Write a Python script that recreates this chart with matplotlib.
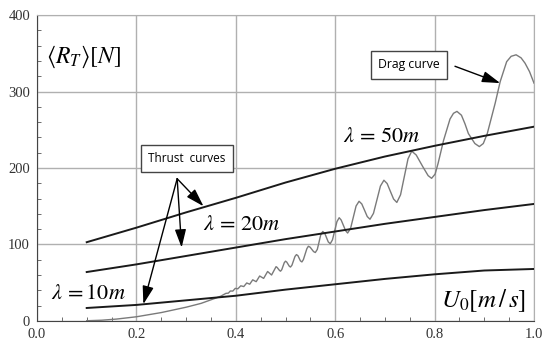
import matplotlib
matplotlib.use('Agg')
import matplotlib.pyplot as plt
from matplotlib.ticker import MultipleLocator

# thrust curves at U0 = 0.1 ... 1.0
u_thrust = [0.1, 0.2, 0.3, 0.4, 0.5, 0.6, 0.7, 0.8, 0.9, 1.0]
thrust_50 = [103, 122, 142, 161, 181, 199, 215, 229, 242, 254]
thrust_20 = [64, 74, 85, 96, 107, 117, 127, 136, 145, 153]
thrust_10 = [17, 21, 27, 33, 41, 48, 55, 61, 66, 68]

# drag curve (wavy), read point by point
u_drag = [0.10, 0.13, 0.16, 0.20, 0.25, 0.30, 0.33, 0.36, 0.370,
          0.380, 0.385, 0.389, 0.394, 0.399, 0.404, 0.410, 0.416, 0.422, 0.428,
          0.434, 0.441, 0.448, 0.456, 0.464, 0.472, 0.481,
          0.483, 0.488, 0.490, 0.4925, 0.4975, 0.500, 0.5025, 0.5075, 0.510,
          0.513, 0.519, 0.522, 0.525, 0.530, 0.533, 0.536, 0.543, 0.546,
          0.5495, 0.5565, 0.560, 0.564, 0.571, 0.575,
          0.579, 0.5825, 0.586, 0.590, 0.5945, 0.599, 0.6035, 0.608,
          0.612, 0.6165, 0.621, 0.625, 0.631, 0.6365, 0.642, 0.648,
          0.6535, 0.659, 0.6645, 0.670, 0.677, 0.684, 0.691, 0.698,
          0.7045, 0.711, 0.7175, 0.724, 0.7315, 0.739, 0.7465, 0.754,
          0.763, 0.776, 0.787, 0.794, 0.801, 0.807, 0.818, 0.831,
          0.838, 0.845, 0.854, 0.861, 0.868, 0.881, 0.890, 0.898, 0.906, 0.922,
          0.932, 0.945, 0.954, 0.964, 0.974, 0.982, 0.991, 1.000]
r_drag = [0.3, 1.0, 2.5, 5.5, 11, 18, 23, 30, 32.5,
          36.1, 36.4, 39.2, 39.1, 42.7, 42.0, 46.0, 45.0, 49.7, 48.1,
          53.8, 51.4, 58.8, 55.7, 64.7, 60.1, 71.0,
          70.1, 66.0, 65.1, 67.1, 76.2, 78.2, 77.0, 71.7, 70.5,
          73.0, 84.3, 86.8, 85.4, 78.6, 77.2, 80.3, 94.6, 97.7,
          96.5, 90.7, 89.5, 93.6, 112.9, 117,
          114.6, 109, 103.4, 101, 106.1, 118, 129.9, 135,
          132, 125, 118, 115, 121.2, 135.8, 150.3, 156.5,
          153, 144.8, 136.5, 133, 140.7, 158.5, 176.4, 184,
          179.7, 169.5, 159.4, 155, 165, 188.5, 212, 222,
          217, 202, 190, 186.5, 192, 206, 236, 264,
          271.5, 274, 269, 258, 245, 232, 228, 232, 245, 285,
          313, 339, 346, 348, 344, 337, 326, 311]

x_ticks = [0.0, 0.2, 0.4, 0.6, 0.8, 1.0]
y_ticks = [0, 100, 200, 300, 400]

plt.rcParams['mathtext.fontset'] = 'stix'
plt.rcParams['font.family'] = 'serif'
plt.rcParams['font.serif'] = ['Liberation Serif', 'DejaVu Serif']

fig = plt.figure(figsize=(5.5, 3.5), dpi=100)
ax = fig.add_axes([0.0673, 0.0829, 0.9036, 0.8742])

ax.plot(u_thrust, thrust_50, color='#1a1a1a', lw=1.4, zorder=3)
ax.plot(u_thrust, thrust_20, color='#1a1a1a', lw=1.4, zorder=3)
ax.plot(u_thrust, thrust_10, color='#1a1a1a', lw=1.4, zorder=3)
ax.plot(u_drag, r_drag, color='#7a7a7a', lw=1.0, zorder=2)

ax.set_xlim(0, 1)
ax.set_ylim(0, 400)
ax.set_xticks(x_ticks)
ax.set_xticklabels([f'{v:.1f}' for v in x_ticks])
ax.set_yticks(y_ticks)
ax.xaxis.set_minor_locator(MultipleLocator(0.05))
ax.yaxis.set_minor_locator(MultipleLocator(20))
ax.tick_params(which='both', direction='in', colors='#555555', labelcolor='#333333',
               labelsize=10.5)
ax.tick_params(which='major', length=0, pad=5)
ax.tick_params(which='minor', length=3)
ax.grid(True, color='#b0b0b0', lw=1.0)
ax.set_axisbelow(True)
for side in ['top', 'right']:
    ax.spines[side].set_color('#b0b0b0')
for side in ['left', 'bottom']:
    ax.spines[side].set_color('#444444')

# labels
ax.text(0.093, 345, r'$\langle R_T\rangle[N]$', fontsize=17, ha='center', va='center')
ax.text(0.898, 27, r'$U_0[m\,/\,s]$', fontsize=18, ha='center', va='center')
ax.text(0.694, 240, r'$\lambda\,=\,50m$', fontsize=16, ha='center', va='center')
ax.text(0.412, 125, r'$\lambda\,=\,20m$', fontsize=16, ha='center', va='center')
ax.text(0.104, 35, r'$\lambda\,=10m$', fontsize=16, ha='center', va='center')

box = dict(boxstyle='square,pad=0.6', fc='white', ec='#444444', lw=1.0)
ax.text(0.302, 212, 'Thrust  curves', fontsize=8.5, family='Open Sans',
        ha='center', va='center', bbox=box, zorder=5)
ax.text(0.748, 335, 'Drag curve', fontsize=8.8, family='Open Sans',
        ha='center', va='center', bbox=box, zorder=5)

arrow = dict(arrowstyle='-|>,head_length=0.55,head_width=0.17', color='black',
             lw=1.0, mutation_scale=20, shrinkA=0, shrinkB=0)
for tx, ty in [(0.335, 150), (0.291, 96), (0.214, 22)]:
    ax.annotate('', xy=(tx, ty), xytext=(0.282, 186), arrowprops=arrow, zorder=6)
ax.annotate('', xy=(0.932, 311), xytext=(0.841, 333), arrowprops=arrow, zorder=6)

fig.savefig('out.png', dpi=100)
